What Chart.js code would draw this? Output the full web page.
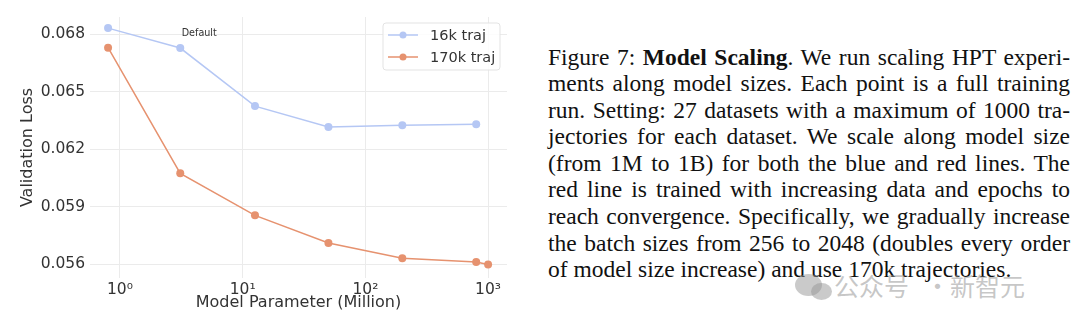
<!DOCTYPE html>
<html>
<head>
<meta charset="utf-8">
<script src="https://cdn.jsdelivr.net/npm/chart.js@4.4.1/dist/chart.umd.min.js"></script>
<style>
  body { margin: 0; background: #fff; width: 1080px; height: 327px; overflow: hidden; position: relative; }
  #chartBox { position: absolute; left: 0; top: 0; width: 520px; height: 327px; }
  #caption {
    position: absolute; left: 548px; top: 43.5px; width: 522px;
    font-family: "Liberation Serif", "Times New Roman", serif;
    font-size: 23.5px; line-height: 26.6px; color: #111;
  }
  #caption div { white-space: nowrap; text-align: justify; text-align-last: justify; }
  #caption div.last { text-align-last: left; }
  .wm { position: absolute; font-family: "Noto Sans CJK SC", sans-serif; font-size: 25px;
        color: rgba(150,150,150,0.55); line-height: 1; }
  .bubble { position: absolute; border-radius: 50%; background: rgba(150,150,150,0.5); }
</style>
</head>
<body>
<div id="chartBox"><canvas id="chart" width="520" height="327"></canvas></div>

<div id="caption">
  <div>Figure 7: <b>Model Scaling</b>. We run scaling HPT experi-</div>
  <div>ments along model sizes. Each point is a full training</div>
  <div>run. Setting: 27 datasets with a maximum of 1000 tra-</div>
  <div>jectories for each dataset. We scale along model size</div>
  <div>(from 1M to 1B) for both the blue and red lines. The</div>
  <div>red line is trained with increasing data and epochs to</div>
  <div>reach convergence. Specifically, we gradually increase</div>
  <div>the batch sizes from 256 to 2048 (doubles every order</div>
  <div class="last">of model size increase) and use 170k trajectories.</div>
</div>

<div class="bubble" style="left:795px; top:274px; width:27px; height:22px;"></div>
<div class="bubble" style="left:811px; top:283px; width:21px; height:17px;"></div>
<div class="wm" style="left:834px; top:273px;">公众号</div>
<div class="wm" style="left:925px; top:273px;">·</div>
<div class="wm" style="left:950px; top:273px;">新智元</div>

<script>
// model size in millions of parameters
const xs16k = [0.8, 3.1, 12.6, 50, 200, 800];
const loss16k = [0.06831, 0.06727, 0.06424, 0.06315, 0.06324, 0.06329];
const xs170k = [0.8, 3.1, 12.6, 50, 200, 800, 1000];
const loss170k = [0.06729, 0.06073, 0.05854, 0.0571, 0.0563, 0.0561, 0.05598];

const xTicks = [1, 10, 100, 1000];
const xTickLabels = ["10\u2070", "10\u00b9", "10\u00b2", "10\u00b3"];
const yTicks = [0.056, 0.059, 0.062, 0.065, 0.068];

const seriesNames = ["16k traj", "170k traj"];
const annotationText = "Default";

const blue = "#b5c7f4";
const red = "#e6926f";
const font = "'DejaVu Sans', sans-serif";

const toPoints = (xs, ys) => xs.map((x, i) => ({ x: x, y: ys[i] }));

// legend box drawn in the top right corner of the plot
const legendPlugin = {
  id: "boxLegend",
  afterDatasetsDraw(chart) {
    const ctx = chart.ctx;
    const area = chart.chartArea;
    const w = 117, h = 47;
    const x0 = area.right - w - 7;
    const y0 = area.top + 6;
    ctx.save();
    ctx.beginPath();
    ctx.roundRect(x0, y0, w, h, 3);
    ctx.fillStyle = "rgba(255,255,255,0.85)";
    ctx.fill();
    ctx.strokeStyle = "#e3e3e3";
    ctx.lineWidth = 1;
    ctx.stroke();
    chart.data.datasets.forEach((ds, i) => {
      const y = y0 + 12 + i * 22;
      ctx.strokeStyle = ds.borderColor;
      ctx.lineWidth = 1.5;
      ctx.beginPath();
      ctx.moveTo(x0 + 5, y);
      ctx.lineTo(x0 + 35, y);
      ctx.stroke();
      ctx.fillStyle = ds.borderColor;
      ctx.beginPath();
      ctx.arc(x0 + 20, y, 3.5, 0, Math.PI * 2);
      ctx.fill();
      ctx.fillStyle = "#333";
      ctx.font = "14.5px " + font;
      ctx.textBaseline = "middle";
      ctx.textAlign = "left";
      ctx.fillText(ds.label, x0 + 47, y + 1);
    });
    ctx.restore();
  }
};

// "Default" note above the second 16k point
const notePlugin = {
  id: "defaultNote",
  afterDatasetsDraw(chart) {
    const ctx = chart.ctx;
    const px = chart.scales.x.getPixelForValue(xs16k[1]);
    const py = chart.scales.y.getPixelForValue(loss16k[1]);
    ctx.save();
    ctx.font = "9.6px " + font;
    ctx.fillStyle = "#333";
    ctx.textAlign = "center";
    ctx.textBaseline = "middle";
    ctx.fillText(annotationText, px + 19, py - 15);
    ctx.restore();
  }
};

new Chart(document.getElementById("chart"), {
  type: "line",
  data: {
    datasets: [
      {
        label: seriesNames[0],
        data: toPoints(xs16k, loss16k),
        borderColor: blue,
        backgroundColor: blue,
        pointBackgroundColor: blue,
        borderWidth: 1.5,
        pointRadius: 4,
        pointBorderWidth: 0,
      },
      {
        label: seriesNames[1],
        data: toPoints(xs170k, loss170k),
        borderColor: red,
        backgroundColor: red,
        pointBackgroundColor: red,
        borderWidth: 1.5,
        pointRadius: 4,
        pointBorderWidth: 0,
      },
    ],
  },
  options: {
    responsive: false,
    animation: false,
    devicePixelRatio: 1,
    layout: { padding: { top: 17, right: 13, left: 0, bottom: 0 } },
    plugins: {
      legend: { display: false },
      tooltip: { enabled: false },
    },
    scales: {
      x: {
        type: "logarithmic",
        min: 0.57,
        max: 1426,
        afterBuildTicks: (scale) => {
          scale.ticks = xTicks.map((v) => ({ value: v }));
        },
        afterFit: (scale) => {
          scale.height = 49;
        },
        grid: { color: "#ebebeb", drawTicks: false },
        border: { display: false },
        ticks: {
          autoSkip: false,
          maxRotation: 0,
          padding: 3,
          color: "#333",
          font: { family: font, size: 15.5 },
          callback: (value) => xTickLabels[xTicks.indexOf(value)],
        },
        title: {
          display: true,
          text: "Model Parameter (Million)",
          color: "#333",
          font: { family: font, size: 16 },
          padding: { top: 0, bottom: 14.4 },
        },
      },
      y: {
        min: 0.05527,
        max: 0.06889,
        afterBuildTicks: (scale) => {
          scale.ticks = yTicks.map((v) => ({ value: v }));
        },
        afterFit: (scale) => {
          scale.width = 90;
        },
        grid: { color: "#ebebeb", drawTicks: false },
        border: { display: false },
        ticks: {
          padding: 5,
          color: "#333",
          font: { family: font, size: 15.5 },
          callback: (value) => value.toFixed(3),
        },
        title: {
          display: true,
          text: "Validation Loss",
          color: "#333",
          font: { family: font, size: 16 },
          padding: { top: 18.4, bottom: 0 },
        },
      },
    },
  },
  plugins: [legendPlugin, notePlugin],
});
</script>
</body>
</html>
